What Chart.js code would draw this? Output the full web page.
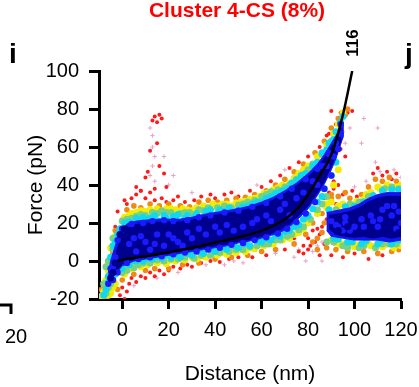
<!DOCTYPE html>
<html>
<head>
<meta charset="utf-8">
<script src="https://cdn.jsdelivr.net/npm/chart.js@4.4.1/dist/chart.umd.min.js"></script>
<style>
  html, body { margin: 0; padding: 0; background: #fff; }
  canvas { display: block; }
</style>
</head>
<body>
<canvas id="chart" width="419" height="387"></canvas>
<script>
// ---- axes ----
const xTicks = [0, 20, 40, 60, 80, 100, 120];
const yTicks = [-20, 0, 20, 40, 60, 80, 100];

// ---- fitted curve ----
const fitCurve = [[-2, 0], [0, 0.6], [10, 2.5], [20, 4.6], [30, 7], [40, 9.7], [50, 12.5], [60, 16],
  [70, 22], [75, 27], [80, 35], [85, 45], [90, 56], [95, 77], [99, 100]];

// ---- density bands (outline of dense regions, upper edge then lower edge) ----
const mainBlueBand = [[-6, -6], [-5, 0], [-3, 8], [-1, 15], [2, 19.5], [6, 21], [10, 21.5], [15, 22], [20, 22],
  [25, 22], [30, 23], [35, 24.5], [40, 25.5], [45, 26.5], [50, 27.5], [55, 29], [60, 31], [65, 33.5],
  [70, 37], [75, 41], [80, 46], [84, 51], [87, 56], [90, 62], [93, 68], [95, 73],
  [95, 65], [92, 54], [90, 48], [87, 40.5], [84, 34.5], [80, 27.5], [76, 22.5], [72, 18], [68, 15], [64, 13.5],
  [60, 12], [55, 10.5], [50, 9.5], [45, 8], [40, 7], [35, 6], [30, 5], [25, 4], [20, 3], [15, 2], [10, 1],
  [5, 0], [0, -2.5], [-3, -7], [-6, -11]];
const mainCoreBand = [[-4, -5], [-3, 1], [-2, 7], [0, 13], [2, 17], [5, 19], [8, 19.5], [12, 20], [16, 20.5], [20, 20.5],
  [25, 20.5], [30, 21.5], [35, 23], [40, 24], [45, 25], [50, 26], [55, 27.5], [60, 29.5], [65, 32], [70, 35.5],
  [75, 39.5], [80, 44], [84, 49], [87, 54], [90, 60], [92, 65], [94, 70],
  [94, 63], [92, 56], [90, 50], [87, 42], [84, 36], [80, 29], [76, 24], [72, 19.5], [68, 16.5], [64, 14.5],
  [60, 13], [55, 11.5], [50, 10.5], [45, 9], [40, 8], [35, 7], [30, 6], [25, 5], [20, 4], [15, 3], [10, 2],
  [5, 1], [0, -1.5], [-2, -5], [-4, -8]];
const rightBlueBand = [[88, 25.5], [94, 27], [98, 28], [102, 30], [106, 33], [110, 35], [114, 36], [118, 36], [120, 36],
  [120, 11], [115, 10], [110, 11], [105, 11], [100, 11], [95, 12], [90, 13], [88, 16]];
const rightCoreBand = [[89, 24], [94, 25], [98, 26], [102, 28], [106, 31], [110, 33], [114, 34], [118, 34], [120, 34],
  [120, 13], [116, 12], [112, 13], [108, 12], [104, 13], [100, 12.5], [96, 13], [92, 14], [89, 17]];

// ---- scattered points by density colour ----
const navyPts = [[-4, -6], [-3, -1], [-5, -9], [-1, 14], [1, 17], [93, 16], [97, 18], [119, 15], [106, 29], [112, 32]];
const bluePts = [[5, 12], [10, 10], [15, 14], [22, 12], [28, 15], [33, 17], [40, 18], [48, 16], [56, 20], [62, 24],
  [68, 27], [75, 33], [82, 42], [6, 5], [12, 6], [18, 8], [26, 8], [-3, 2], [-5, -4], [-4, -10], [-2, -6],
  [86, 50], [89, 57], [92, 62], [94, 67], [94, 72], [93, 59], [90, 21], [93, 18], [96, 20], [98, 16],
  [112, 27], [116, 24], [119, 26], [104, 18], [108, 21],
  [3, 9], [8, 13], [14, 9], [20, 14], [24, 10], [30, 12], [36, 14], [42, 15], [45, 19], [52, 18], [58, 22],
  [64, 21], [70, 30], [72, 24], [78, 36], [84, 40], [88, 50], [91, 55],
  [0, 17], [4, 19.5], [9, 20], [13, 21], [18, 21.5], [22, 21], [28, 21.5], [33, 23], [38, 24], [44, 25.5],
  [50, 26.5], [56, 28.5], [62, 30.5], [68, 34], [73, 38], [79, 43], [84, 48.5], [89, 56],
  [2, -1], [7, 1], [12, 2], [17, 2.5], [22, 3.5], [27, 4.5], [32, 5], [37, 6], [42, 7], [47, 8.5], [52, 9.5],
  [57, 11], [62, 12.5], [67, 14.5], [71, 17], [75, 20.5], [79, 25], [83, 31], [87, 38], [90, 45],
  [-6, -12], [-4, -3], [-2, 11], [92, 19], [95, 16], [100, 18], [103, 22], [107, 24], [111, 22], [114, 29], [117, 29],
  [120, 20], [96, 23], [110, 18], [118, 17]];
const cyanPts = [[-5, 2], [-4, 8], [-2, 14], [1, 20], [3, 20.5], [6, 22.5], [9, 23], [12, 22.5], [14, 24], [18, 24],
  [22, 23.5], [24, 24.5], [28, 24], [32, 25], [36, 26], [38, 27], [42, 27], [46, 28], [48, 26], [52, 28.5],
  [56, 30], [58, 31], [62, 33], [66, 35.5], [69, 37], [73, 41], [77, 45], [82, 50], [86, 57], [89, 62], [92, 68],
  [94, 73], [95, 76], [4, 16], [8, 18], [16, 21], [20, 17], [26, 21], [34, 22], [-2, 4], [0, 7], [3, 4],
  [2, 19], [7, 21], [11, 22], [19, 22.5], [23, 22], [27, 22.5], [31, 23], [37, 24.5], [41, 25], [44, 26],
  [50, 27], [54, 29], [60, 31], [64, 34], [68, 36], [71, 38], [75, 42.5], [79, 46], [84, 52], [88, 58.5],
  [91, 64], [-3, 10], [-1, 17],
  [-6, -8], [-5, -4], [-3, -7], [0, -4], [3, -2], [6, 0], [9, 0], [13, 1], [17, 1.5], [21, 2], [25, 2], [30, 3],
  [35, 4], [40, 5], [45, 6], [50, 7], [55, 8], [60, 10], [64, 11], [68, 13], [72, 16], [76, 19], [80, 24],
  [84, 31], [87, 38], [90, 45], [92, 52],
  [1, -1], [4, 0], [8, 1], [11, 1.5], [15, 2.5], [19, 3], [23, 3.5], [28, 4], [33, 5], [38, 6], [43, 7], [48, 8],
  [53, 9], [58, 10.5], [62, 12], [66, 13.5], [70, 15.5], [74, 18], [78, 22], [82, 27.5], [86, 34],
  [-7, -15], [-8, -18], [-6, -11], [-5, -7], [-3, -3],
  [89, 27], [92, 20], [96, 28.5], [100, 29], [104, 31], [108, 34.5], [112, 37], [116, 37.5], [119, 37.5],
  [91, 12], [97, 10], [103, 9], [110, 9], [116, 9], [119, 11], [106, 17], [115, 18],
  [93, 11.5], [99, 10], [105, 10.5], [111, 10.5], [117, 11]];
const greenPts = [[-7, -3], [-6, 0], [-4, 6], [0, 21], [4, 22.5], [8, 24.5], [13, 25.5], [17, 26.5], [21, 25.5],
  [27, 25.5], [33, 27], [37, 28], [44, 29], [50, 29.5], [54, 31], [60, 34], [64, 36.5], [70, 39], [75, 43], [80, 48],
  [2, 22], [6, 23.5], [10, 24], [15, 25], [19, 25.5], [25, 25], [29, 25.5], [35, 26.5], [41, 28], [47, 28],
  [52, 30], [57, 32], [62, 35], [67, 37.5], [72, 40], [78, 45.5], [82, 51], [86, 56], [90, 63],
  [-8, -12], [-6, -14], [-4, -10], [2, -5], [7, -2], [12, -1], [18, 0], [24, 1], [31, 1.5], [38, 3], [46, 5],
  [52, 6], [58, 8], [63, 9], [68, 11], [73, 14], [78, 18], [84, 27], [88, 34],
  [0, -6], [5, -3.5], [9, -1], [15, 0.5], [21, 1], [27, 2], [34, 3], [42, 4.5], [49, 6], [55, 7.5], [61, 9],
  [66, 11], [71, 13], [76, 16.5], [81, 22], [86, 30],
  [-7, -17], [-5, -12], [-3, 0], [-4, 12],
  [88, 10], [95, 8], [102, 7], [109, 7], [115, 9], [102, 31], [106, 34], [116, 39], [98, 30],
  [91, 10], [97, 7], [104, 8], [112, 9], [118, 9], [92, 27], [113, 38], [119, 38]];
const yellowPts = [[-3, 13], [1, 23], [3, 24], [6, 25.5], [10, 26], [15, 27.5], [19, 27.5], [23, 27], [26, 27.5],
  [30, 26.5], [35, 29], [39, 30], [43, 30], [47, 29], [51, 31], [55, 32.5], [59, 34], [63, 36], [67, 38.5],
  [72, 41], [76, 46], [80, 50], [84, 55], [88, 61], [91, 67], [93, 72], [95, 78],
  [4, 25], [8, 26.5], [12, 27], [17, 26], [21, 27.5], [28, 27], [32, 28], [37, 27.5], [41, 29], [45, 30],
  [49, 30.5], [53, 31.5], [57, 33], [61, 35.5], [65, 37.5], [69, 40], [74, 43.5], [78, 48],
  [-8, -16], [-7, -10], [-5, -17], [-3, -12], [1, -7], [4, -4], [8, -3], [11, -2], [15, -1], [19, -1.5], [23, 0],
  [27, 0.5], [32, 1], [36, 2], [41, 3], [45, 3.5], [49, 4.5], [53, 5], [57, 6.5], [61, 8], [65, 9], [69, 11],
  [72, 12], [76, 15], [80, 20], [84, 25], [88, 30], [91, 40], [93, 48],
  [2, -3], [6, -2], [10, -1], [13, 0], [17, 0], [21, 0.5], [25, 1.5], [30, 2], [34, 2.5], [39, 3.5], [43, 4.5],
  [47, 5.5], [51, 6], [55, 7], [59, 8.5], [63, 10], [67, 11.5], [71, 13.5], [74, 14], [78, 17],
  [-9, -19], [-6, -18], [-4, -14], [-6, -5], [-5, 7],
  [88, 28], [90, 11], [93, 29], [97, 8.5], [100, 30], [104, 32.5], [107, 36], [110, 39], [114, 40], [118, 39],
  [120, 40], [94, 8.5], [100, 7.5], [106, 9], [112, 7.5], [117, 7], [120, 8], [108, 16], [113, 19], [102, 15],
  [92, 9.5], [95, 9], [98, 9.5], [101, 8.5], [104, 9], [107, 8], [110, 9], [113, 8.5], [116, 9], [119, 8.5],
  [96, 15], [102, 17], [111, 16], [95, 30], [101, 31.5], [105, 35], [111, 38], [116, 39], [90, 31]];
const orangePts = [[2, 27], [5, 29], [8, 28], [12, 30], [16, 29], [20, 30], [25, 29], [29, 28.5], [33, 31], [37, 32],
  [41, 31], [45, 32], [49, 33], [53, 33.5], [57, 35], [62, 37], [66, 40], [70, 43], [74, 47], [78, 51], [83, 57],
  [87, 63], [90, 70], [93, 75], [96, 77], [97, 80], [-4, 4], [-1, 14], [-8, -20], [-9, -15], [-3, 16],
  [-9, -18], [-7, -20], [-5, -13], [-2, -15], [0, -10], [5, -7], [10, -5], [14, -4], [20, -4], [26, -2],
  [33, -1], [40, 1], [47, 2], [54, 3], [60, 5], [66, 6], [74, 9], [82, 20], [86, 25], [90, 35],
  [82, 10], [84, 12], [86, 15], [87, 20], [88, 29], [90, 33], [93, 34], [96, 36], [98, 33], [103, 35],
  [106, 39], [109, 43], [112, 42], [115, 44], [118, 42], [88, 7], [92, 6], [97, 5], [104, 5], [110, 4],
  [116, 5], [119, 6], [76, 16], [79, 14], [84, 6]];
const redPts = [[2, 30], [4, 33], [6, 35], [8, 37], [10, 33], [12, 36], [14, 32], [17, 33], [19, 31], [22, 32],
  [24, 34], [27, 31], [31, 32], [34, 34], [38, 35], [40, 33], [44, 35], [47, 36], [50, 34], [55, 37], [60, 39],
  [64, 42], [68, 45], [72, 49], [76, 52], [80, 55], [85, 60], [88, 66], [92, 72], [94, 78], [97, 78], [99, 79],
  [90, 79], [94, 59], [96, 55], [89, 67], [-6, 0], [-3, 18], [0, 22], [-2, 26], [1, 32],
  [10, 44], [11, 47], [12, 58], [13, 74], [14, 76], [15, 73], [16, 77], [17, 75], [15, 62], [16, 50], [18, 46],
  [19, 39], [14, 38], [6, 39], [8, 37],
  [-1, -18], [0, -14], [1, -20], [2, -16], [3, -12], [4, -9], [6, -11], [8, -8], [10, -9], [12, -6], [14, -8],
  [16, -5], [18, -7], [20, -5], [22, -3], [25, -4], [28, -2], [30, -3], [34, -1], [38, 0], [42, -0.5], [46, 1],
  [50, 2], [56, 2], [62, 3], [70, 6], [76, 5], [78, 8], [80, 12], [84, 17], [88, 22], [92, 30],
  [78, 4], [80, 6], [81, 8], [83, 10], [85, 14], [86, 18], [87, 33], [89, 36], [91, 38], [93, 40],
  [95, 35], [99, 37], [101, 34], [108, 46], [110, 49], [112, 45], [114, 47], [116, 43], [118, 46], [85, 3],
  [90, 3], [95, 2], [100, 4], [106, 1], [112, 3], [74, 12], [82, 16], [87, 9], [87, 45], [89, 50], [91, 42]];
const pinkPts = [[12, 70], [13, 66], [13, 60], [14, 55], [13, 50], [12, 45], [14, 42], [18, 55], [20, 40], [22, 45],
  [30, 36], [58, 40], [70, 48], [95, 68], [96, 62], [98, 70], [104, 75], [110, 70], [5, -13], [15, -9],
  [24, -6], [36, -2], [44, -2], [48, 0], [52, -1], [66, 4], [74, 2], [79, 0], [82, 5], [86, 10],
  [76, 6], [84, 8], [86, 0], [100, 39], [105, 42], [109, 52], [111, 47], [117, 48], [120, 44], [103, 62], [97, 30]];

const toXY = arr => arr.map(([x, y]) => ({ x, y }));

const band = (data, color, order) => ({
  data: toXY(data), showLine: true, fill: 'shape', backgroundColor: color,
  borderColor: color, borderWidth: 1, pointRadius: 0, tension: 0, order
});
const cloud = (data, color, r, order, style) => ({
  data: toXY(data), backgroundColor: color, borderColor: color, borderWidth: style === 'cross' ? 1 : 0,
  pointRadius: r, pointStyle: style || 'circle', order
});

const FF = '"Liberation Sans", Arial, sans-serif';

// text around the plot
const labelsPlugin = {
  id: 'labels',
  afterDraw(chart) {
    const ctx = chart.ctx;
    ctx.save();
    ctx.textAlign = 'center';
    ctx.textBaseline = 'alphabetic';
    ctx.fillStyle = '#ff0000';
    ctx.font = 'bold 21px ' + FF;
    ctx.fillText('Cluster 4-CS (8%)', 237, 17);
    ctx.fillStyle = '#000';
    ctx.font = 'bold 28px ' + FF;
    ctx.fillText('i', 13, 63);
    ctx.fillText('j', 409, 63);
    ctx.font = '21px ' + FF;
    ctx.fillText('Distance (nm)', 250, 380);
    ctx.save();
    ctx.translate(42, 185);
    ctx.rotate(-Math.PI / 2);
    ctx.fillText('Force (pN)', 0, 0);
    ctx.restore();
    ctx.save();
    ctx.translate(358, 43);
    ctx.rotate(-Math.PI / 2);
    ctx.font = 'bold 17px ' + FF;
    ctx.fillText('116', 0, 0);
    ctx.restore();
    // neighbouring panel remnants
    ctx.font = '20px ' + FF;
    ctx.textAlign = 'left';
    ctx.fillText('20', 5, 343);
    ctx.strokeStyle = '#000';
    ctx.lineWidth = 3;
    ctx.beginPath();
    ctx.moveTo(0, 305);
    ctx.lineTo(11, 305);
    ctx.lineTo(11, 314);
    ctx.stroke();
    ctx.restore();
  }
};

new Chart(document.getElementById('chart'), {
  type: 'scatter',
  data: {
    datasets: [
      { data: toXY(fitCurve), showLine: true, borderColor: '#000', borderWidth: 2.5, pointRadius: 0,
        cubicInterpolationMode: 'monotone', order: 0 },
      cloud(navyPts, '#00008f', 3.5, 1),
      cloud(bluePts, '#1a1aff', 3.2, 2),
      band(mainCoreBand, '#00008f', 3),
      band(rightCoreBand, '#00008f', 3),
      band(mainBlueBand, '#1414f0', 4),
      band(rightBlueBand, '#1414f0', 4),
      cloud(cyanPts, '#10d8ee', 3.5, 5),
      cloud(greenPts, '#78d080', 3.5, 6),
      cloud(yellowPts, '#f4ec00', 3.5, 7),
      cloud(orangePts, '#ee8a18', 2.8, 8),
      cloud(redPts, '#ff1a1a', 2, 9),
      cloud(pinkPts, '#e8a0c8', 2.2, 10, 'cross')
    ]
  },
  options: {
    responsive: false,
    animation: false,
    events: [],
    layout: { padding: { left: 0, top: 71, right: 18, bottom: 48 } },
    plugins: { legend: { display: false }, tooltip: { enabled: false } },
    scales: {
      x: {
        type: 'linear', min: -10, max: 120,
        afterFit: s => { s.height = 40; s.paddingLeft = 0; s.paddingRight = 0; },
        afterBuildTicks: s => { s.ticks = xTicks.map(v => ({ value: v })); },
        grid: { display: true, drawOnChartArea: false, drawTicks: true, tickLength: 10, tickWidth: 3, tickColor: '#000' },
        border: { display: true, color: '#000', width: 3 },
        ticks: { color: '#000', padding: 9, maxRotation: 0, font: { family: FF, size: 20 } }
      },
      y: {
        type: 'linear', min: -20, max: 100,
        afterFit: s => { s.width = 99; s.paddingTop = 0; s.paddingBottom = 0; },
        afterBuildTicks: s => { s.ticks = yTicks.map(v => ({ value: v })); },
        grid: { display: true, drawOnChartArea: false, drawTicks: true, tickLength: 10, tickWidth: 3, tickColor: '#000' },
        border: { display: true, color: '#000', width: 3 },
        ticks: { color: '#000', padding: 10, font: { family: FF, size: 20 } }
      }
    }
  },
  plugins: [labelsPlugin]
});
</script>
</body>
</html>
